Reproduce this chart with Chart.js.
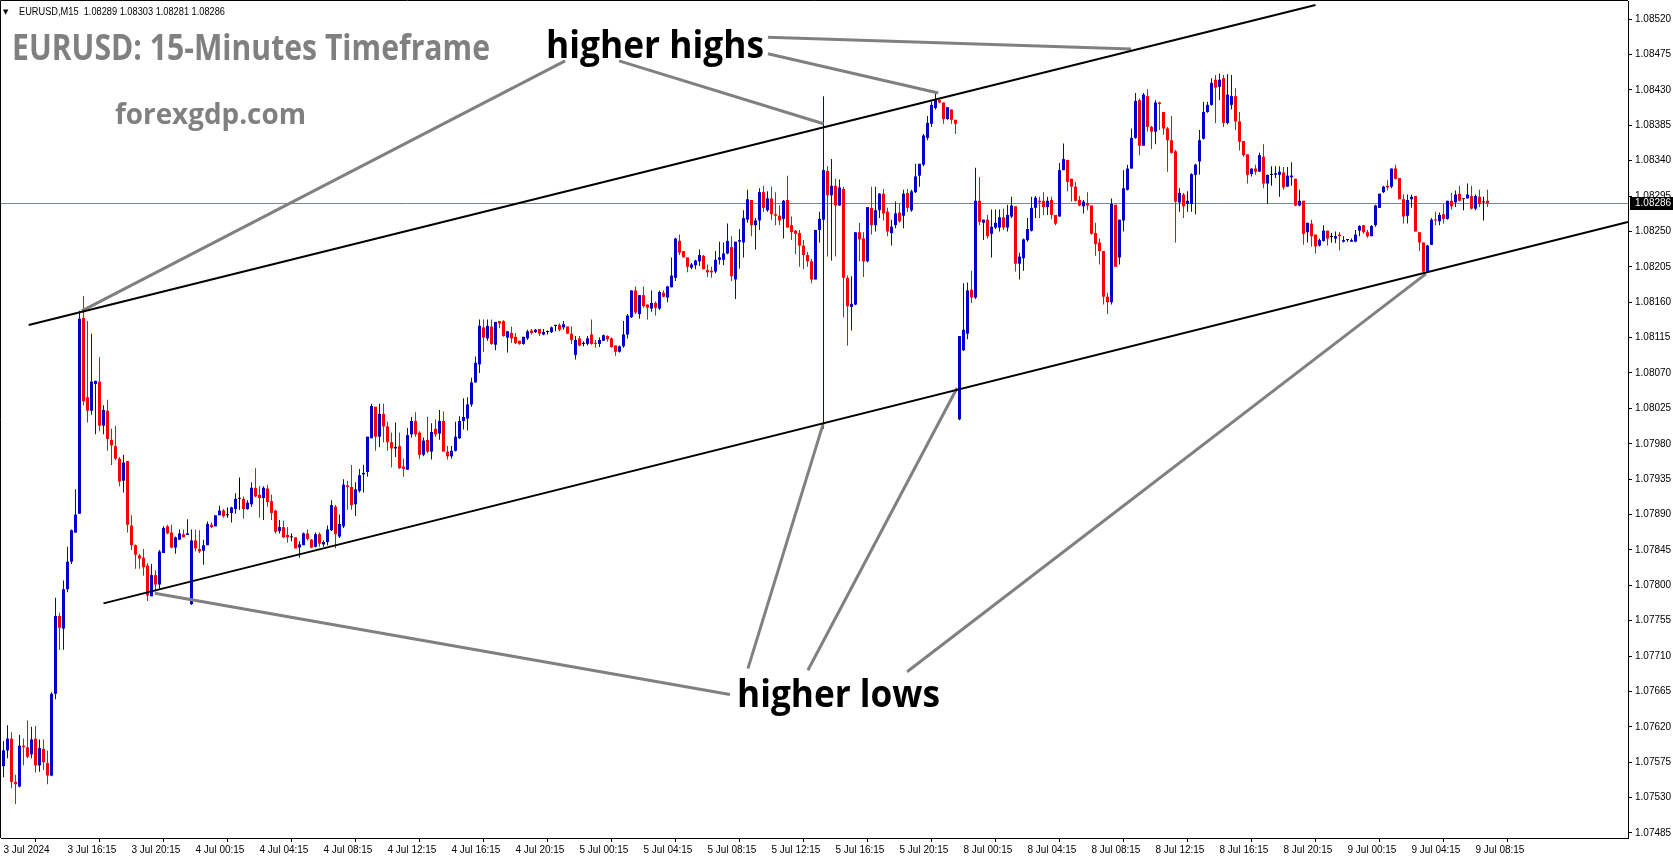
<!DOCTYPE html>
<html>
<head>
<meta charset="utf-8">
<title>EURUSD M15</title>
<script src="https://cdn.jsdelivr.net/npm/chart.js@4.4.1/dist/chart.umd.min.js"></script>
<style>
  html, body { margin: 0; padding: 0; background: #fff; overflow: hidden; }
  #myChart { display: block; }
</style>
</head>
<body>
<canvas id="myChart" width="1673" height="861"></canvas>
<script>
// Prices are stored in points: 7590 means 1.07590
const OPEN_PTS = [
  7570, 7590, 7605, 7550, 7544, 7596, 7594, 7585, 7605, 7571, 7592, 7574, 7558, 7662, 7761, 7745,
  7795, 7830, 7867, 7891, 8140, 8039, 8022, 8056, 8059, 8003, 8022, 7985, 7977, 7961, 7933, 7958,
  7876, 7851, 7838, 7835, 7825, 7786, 7813, 7801, 7841, 7875, 7867, 7848, 7858, 7865, 7864, 7776,
  7857, 7846, 7844, 7851, 7877, 7875, 7889, 7895, 7889, 7892, 7897, 7910, 7910, 7897, 7903, 7924,
  7915, 7911, 7923, 7907, 7895, 7869, 7874, 7864, 7861, 7861, 7848, 7851, 7866, 7858, 7849, 7865,
  7852, 7855, 7870, 7900, 7862, 7875, 7927, 7925, 7903, 7920, 7941, 7944, 7987, 8027, 7989, 8018,
  8002, 7982, 7974, 7977, 7951, 7947, 7992, 8009, 7994, 7966, 7985, 7970, 7999, 7993, 8009, 7970,
  7964, 7971, 7987, 8009, 8012, 8030, 8058, 8081, 8128, 8114, 8129, 8106, 8136, 8136, 8115, 8121,
  8116, 8111, 8107, 8114, 8124, 8122, 8126, 8119, 8122, 8122, 8130, 8131, 8128, 8129, 8120, 8093,
  8114, 8107, 8107, 8119, 8108, 8107, 8111, 8117, 8114, 8105, 8097, 8104, 8119, 8141, 8175, 8145,
  8169, 8157, 8152, 8159, 8152, 8172, 8166, 8179, 8191, 8238, 8225, 8217, 8204, 8207, 8212, 8219,
  8201, 8200, 8199, 8214, 8214, 8222, 8230, 8189, 8237, 8236, 8265, 8290, 8258, 8264, 8300, 8277,
  8292, 8272, 8270, 8266, 8290, 8258, 8251, 8248, 8232, 8220, 8212, 8189, 8252, 8265, 8327, 8296,
  8308, 8283, 8304, 8191, 8154, 8157, 8249, 8241, 8212, 8280, 8258, 8277, 8298, 8275, 8248, 8258,
  8274, 8270, 8299, 8277, 8300, 8321, 8335, 8369, 8387, 8407, 8417, 8414, 8393, 8405, 8392, 8011,
  8099, 8120, 8176, 8166, 8289, 8261, 8265, 8247, 8255, 8255, 8268, 8255, 8269, 8282, 8209, 8216,
  8239, 8251, 8280, 8289, 8289, 8281, 8290, 8271, 8269, 8328, 8341, 8317, 8307, 8290, 8282, 8286,
  8283, 8248, 8236, 8225, 8167, 8160, 8284, 8217, 8264, 8303, 8330, 8369, 8417, 8359, 8422, 8383,
  8377, 8414, 8402, 8381, 8366, 8352, 8287, 8297, 8285, 8285, 8322, 8339, 8368, 8402, 8411, 8443,
  8434, 8445, 8388, 8411, 8422, 8390, 8365, 8348, 8323, 8330, 8326, 8345, 8311, 8322, 8322, 8322,
  8325, 8307, 8319, 8317, 8283, 8289, 8249, 8260, 8246, 8232, 8238, 8251, 8243, 8241, 8246, 8237,
  8239, 8237, 8237, 8251, 8258, 8249, 8244, 8258, 8280, 8300, 8308, 8307, 8330, 8318, 8291, 8270,
  8291, 8295, 8249, 8236, 8199, 8233, 8265, 8263, 8272, 8266, 8289, 8287, 8298, 8291, 8292, 8295,
  8279, 8294, 8287, 8289,
];
const HIGH_PTS = [
  7602, 7622, 7613, 7559, 7610, 7605, 7628, 7620, 7621, 7604, 7604, 7590, 7664, 7784, 7765, 7806,
  7849, 7871, 7922, 8149, 8168, 8136, 8120, 8060, 8090, 8029, 8036, 7999, 8003, 7963, 7966, 7958,
  7889, 7852, 7840, 7846, 7828, 7827, 7819, 7845, 7875, 7877, 7877, 7862, 7871, 7871, 7884, 7871,
  7871, 7870, 7858, 7881, 7880, 7889, 7901, 7897, 7899, 7900, 7917, 7937, 7913, 7908, 7931, 7949,
  7926, 7926, 7928, 7915, 7896, 7883, 7882, 7874, 7866, 7861, 7856, 7867, 7871, 7859, 7867, 7867,
  7857, 7876, 7908, 7902, 7890, 7935, 7933, 7953, 7931, 7948, 7953, 7989, 8031, 8027, 8031, 8031,
  8008, 7994, 8007, 7994, 7961, 8000, 8014, 8020, 7996, 7988, 8014, 8006, 8011, 8023, 8021, 7977,
  7977, 8008, 8015, 8038, 8039, 8064, 8091, 8138, 8138, 8138, 8138, 8135, 8136, 8137, 8123, 8129,
  8121, 8111, 8116, 8125, 8126, 8126, 8126, 8126, 8124, 8129, 8131, 8133, 8136, 8129, 8129, 8117,
  8117, 8110, 8117, 8138, 8112, 8115, 8119, 8118, 8115, 8105, 8105, 8136, 8145, 8175, 8180, 8169,
  8180, 8157, 8175, 8161, 8175, 8175, 8181, 8217, 8242, 8246, 8225, 8217, 8210, 8214, 8227, 8220,
  8208, 8205, 8225, 8237, 8236, 8260, 8244, 8237, 8253, 8277, 8303, 8290, 8267, 8305, 8308, 8301,
  8307, 8300, 8283, 8290, 8321, 8269, 8252, 8252, 8239, 8224, 8215, 8252, 8275, 8422, 8333, 8342,
  8317, 8316, 8307, 8194, 8193, 8249, 8261, 8249, 8281, 8307, 8307, 8299, 8304, 8280, 8265, 8288,
  8286, 8303, 8304, 8303, 8336, 8336, 8374, 8397, 8415, 8425, 8418, 8414, 8408, 8405, 8392, 8117,
  8184, 8185, 8200, 8331, 8319, 8265, 8271, 8278, 8278, 8278, 8279, 8284, 8294, 8282, 8223, 8241,
  8267, 8294, 8295, 8294, 8300, 8294, 8294, 8271, 8337, 8362, 8341, 8317, 8313, 8295, 8290, 8300,
  8283, 8261, 8241, 8225, 8172, 8292, 8284, 8265, 8328, 8335, 8381, 8426, 8419, 8426, 8431, 8384,
  8417, 8415, 8402, 8383, 8397, 8354, 8305, 8299, 8301, 8324, 8336, 8379, 8415, 8415, 8445, 8449,
  8451, 8449, 8450, 8449, 8432, 8402, 8365, 8348, 8330, 8335, 8350, 8361, 8322, 8333, 8333, 8333,
  8332, 8332, 8338, 8317, 8303, 8289, 8261, 8265, 8246, 8241, 8258, 8251, 8248, 8250, 8249, 8244,
  8239, 8241, 8252, 8258, 8258, 8252, 8258, 8284, 8298, 8308, 8315, 8330, 8335, 8318, 8297, 8297,
  8297, 8295, 8249, 8236, 8233, 8267, 8275, 8274, 8285, 8289, 8299, 8302, 8308, 8291, 8311, 8308,
  8297, 8303, 8294, 8303,
];
const LOW_PTS = [
  7556, 7580, 7542, 7522, 7543, 7571, 7580, 7580, 7562, 7563, 7565, 7547, 7557, 7655, 7718, 7718,
  7791, 7827, 7867, 7891, 8029, 8007, 8017, 7992, 7996, 7992, 7971, 7953, 7959, 7926, 7918, 7867,
  7845, 7821, 7821, 7812, 7780, 7786, 7792, 7796, 7841, 7865, 7847, 7840, 7858, 7861, 7864, 7775,
  7843, 7841, 7826, 7851, 7873, 7875, 7889, 7886, 7886, 7880, 7891, 7896, 7885, 7896, 7900, 7912,
  7886, 7883, 7900, 7883, 7866, 7866, 7860, 7854, 7856, 7847, 7835, 7851, 7857, 7847, 7848, 7849,
  7849, 7851, 7869, 7847, 7860, 7873, 7896, 7896, 7888, 7918, 7918, 7938, 7987, 7971, 7976, 7982,
  7971, 7950, 7963, 7948, 7938, 7947, 7988, 7989, 7961, 7964, 7968, 7960, 7989, 7985, 7970, 7960,
  7961, 7970, 7986, 7998, 7997, 8027, 8058, 8070, 8097, 8111, 8106, 8099, 8127, 8116, 8096, 8108,
  8107, 8106, 8106, 8112, 8119, 8121, 8117, 8118, 8119, 8121, 8123, 8123, 8125, 8120, 8107, 8087,
  8104, 8104, 8105, 8106, 8102, 8103, 8111, 8110, 8102, 8092, 8096, 8102, 8114, 8140, 8145, 8139,
  8153, 8138, 8148, 8143, 8150, 8166, 8160, 8179, 8187, 8220, 8217, 8198, 8202, 8202, 8206, 8202,
  8192, 8191, 8197, 8208, 8207, 8221, 8187, 8164, 8203, 8217, 8261, 8244, 8227, 8252, 8275, 8275,
  8265, 8258, 8258, 8241, 8255, 8239, 8221, 8205, 8202, 8205, 8184, 8189, 8236, 7999, 8218, 8213,
  8218, 8283, 8141, 8105, 8124, 8156, 8212, 8192, 8211, 8246, 8250, 8267, 8264, 8244, 8232, 8254,
  8261, 8254, 8275, 8275, 8299, 8307, 8333, 8366, 8383, 8405, 8413, 8387, 8392, 8387, 8374, 8010,
  8098, 8113, 8159, 8164, 8258, 8239, 8241, 8217, 8253, 8250, 8252, 8250, 8267, 8199, 8189, 8200,
  8237, 8250, 8267, 8267, 8271, 8271, 8266, 8258, 8269, 8328, 8301, 8288, 8288, 8282, 8273, 8277,
  8246, 8219, 8208, 8157, 8145, 8157, 8205, 8208, 8250, 8302, 8330, 8368, 8347, 8359, 8377, 8355,
  8361, 8379, 8373, 8326, 8349, 8236, 8275, 8267, 8275, 8275, 8272, 8322, 8367, 8401, 8410, 8388,
  8417, 8383, 8386, 8405, 8379, 8353, 8345, 8311, 8320, 8322, 8326, 8305, 8285, 8308, 8318, 8294,
  8303, 8307, 8308, 8282, 8282, 8233, 8236, 8231, 8222, 8231, 8237, 8232, 8236, 8235, 8226, 8236,
  8237, 8237, 8237, 8244, 8247, 8242, 8244, 8256, 8280, 8299, 8302, 8305, 8316, 8291, 8260, 8260,
  8280, 8250, 8225, 8198, 8198, 8233, 8258, 8258, 8260, 8265, 8278, 8281, 8288, 8277, 8292, 8278,
  8277, 8281, 8264, 8281,
];
const CLOSE_PTS = [
  7590, 7605, 7550, 7547, 7596, 7594, 7582, 7604, 7571, 7593, 7575, 7558, 7662, 7761, 7746, 7795,
  7830, 7870, 7890, 8139, 8034, 8022, 8059, 8060, 8003, 8023, 7986, 7978, 7961, 7932, 7956, 7877,
  7851, 7839, 7834, 7823, 7787, 7813, 7801, 7843, 7873, 7866, 7848, 7861, 7866, 7861, 7866, 7857,
  7847, 7843, 7851, 7878, 7874, 7889, 7895, 7888, 7889, 7899, 7910, 7910, 7897, 7905, 7924, 7913,
  7911, 7924, 7906, 7892, 7868, 7874, 7861, 7861, 7861, 7847, 7852, 7866, 7859, 7848, 7865, 7853,
  7855, 7871, 7902, 7865, 7878, 7928, 7925, 7902, 7922, 7940, 7943, 7989, 8028, 7989, 8018, 8002,
  7982, 7974, 7976, 7949, 7948, 7991, 8009, 7992, 7966, 7984, 7970, 7995, 7992, 8009, 7970, 7964,
  7971, 7989, 8009, 8014, 8030, 8058, 8083, 8130, 8115, 8130, 8107, 8135, 8133, 8117, 8123, 8114,
  8108, 8107, 8116, 8123, 8121, 8125, 8120, 8122, 8122, 8128, 8130, 8125, 8132, 8120, 8112, 8112,
  8105, 8107, 8114, 8107, 8107, 8112, 8118, 8113, 8103, 8097, 8104, 8119, 8143, 8175, 8147, 8169,
  8155, 8153, 8159, 8153, 8173, 8167, 8180, 8194, 8241, 8223, 8217, 8205, 8208, 8213, 8220, 8202,
  8198, 8198, 8214, 8217, 8222, 8238, 8193, 8237, 8239, 8267, 8291, 8258, 8264, 8300, 8280, 8292,
  8272, 8270, 8264, 8289, 8255, 8249, 8247, 8232, 8220, 8212, 8189, 8252, 8266, 8328, 8296, 8308,
  8283, 8306, 8191, 8155, 8158, 8249, 8240, 8212, 8281, 8258, 8277, 8298, 8273, 8250, 8256, 8273,
  8263, 8298, 8280, 8301, 8320, 8336, 8372, 8388, 8411, 8418, 8414, 8393, 8408, 8392, 8387, 8117,
  8125, 8175, 8166, 8289, 8262, 8265, 8244, 8256, 8261, 8268, 8255, 8271, 8283, 8209, 8218, 8240,
  8253, 8280, 8293, 8287, 8281, 8289, 8271, 8260, 8328, 8342, 8313, 8307, 8289, 8283, 8288, 8283,
  8247, 8234, 8225, 8167, 8160, 8285, 8205, 8265, 8305, 8330, 8369, 8416, 8359, 8424, 8383, 8377,
  8414, 8412, 8381, 8366, 8350, 8288, 8299, 8282, 8289, 8323, 8335, 8366, 8402, 8411, 8439, 8433,
  8443, 8388, 8424, 8422, 8390, 8364, 8347, 8322, 8330, 8326, 8347, 8311, 8322, 8322, 8324, 8326,
  8306, 8321, 8321, 8283, 8289, 8247, 8261, 8244, 8231, 8239, 8251, 8241, 8243, 8244, 8244, 8239,
  8239, 8239, 8246, 8257, 8249, 8244, 8257, 8283, 8298, 8307, 8306, 8330, 8317, 8291, 8269, 8290,
  8294, 8250, 8236, 8199, 8232, 8265, 8264, 8271, 8266, 8289, 8282, 8297, 8289, 8291, 8297, 8279,
  8295, 8285, 8287, 8286,
];

// One label every 16 bars (4 hours of M15)
const TIME_LABELS = [
  '3 Jul 2024', '3 Jul 16:15', '3 Jul 20:15', '4 Jul 00:15', '4 Jul 04:15', '4 Jul 08:15',
  '4 Jul 12:15', '4 Jul 16:15', '4 Jul 20:15', '5 Jul 00:15', '5 Jul 04:15', '5 Jul 08:15',
  '5 Jul 12:15', '5 Jul 16:15', '5 Jul 20:15', '8 Jul 00:15', '8 Jul 04:15', '8 Jul 08:15',
  '8 Jul 12:15', '8 Jul 16:15', '8 Jul 20:15', '9 Jul 00:15', '9 Jul 04:15', '9 Jul 08:15',
];
const BARS_PER_LABEL = 16;

const PRICE_TICKS = [
  1.07485, 1.07530, 1.07575, 1.07620, 1.07665, 1.07710, 1.07755, 1.07800,
  1.07845, 1.07890, 1.07935, 1.07980, 1.08025, 1.08070, 1.08115, 1.08160,
  1.08205, 1.08250, 1.08295, 1.08340, 1.08385, 1.08430, 1.08475, 1.08520,
];

// [bar index, price, bar index, price]
const TREND_LINES = [
  [6.3, 1.08131, 328, 1.08538],
  [25, 1.07777, 406.1, 1.08262],
];
const HIGH_POINTERS = [
  [140.4, 1.08467, 19.6, 1.08149],
  [153.9, 1.08467, 205, 1.08387],
  [191.1, 1.08497, 281.9, 1.08482],
  [191.1, 1.08476, 233.7, 1.08426],
];
const LOW_POINTERS = [
  [37.8, 1.07790, 181.6, 1.07661],
  [186.1, 1.07694, 204.9, 1.08005],
  [201.1, 1.07692, 238.4, 1.08051],
  [225.9, 1.07690, 355.6, 1.08196],
];

const SYMBOL = 'EURUSD,M15';
const TITLE = 'EURUSD: 15-Minutes Timeframe';
const SITE = 'forexgdp.com';
const HIGHS_TEXT = 'higher highs';
const LOWS_TEXT = 'higher lows';

const COLOR_BULL = '#0000CD';
const COLOR_BEAR = '#FF0000';
const COLOR_DOJI = '#000000';
const COLOR_PRICE_LINE = '#778899';
const COLOR_POINTER = '#808080';
const COLOR_CAPTION = '#808080';

const Y_MIN = 1.074786;
const Y_MAX = 1.085431;
const X_MIN = -0.625;
const X_MAX = 406.125;
const AXIS_FONT = '"Liberation Sans", Arial, sans-serif';
const TEXT_FONT = '"Open Sans", "DejaVu Sans", sans-serif';

const ctx = document.querySelector('#myChart');

/**
 * Converts a value in points to a price.
 * @param {number} points The price in points.
 * @return {number} The price.
 */
function toPrice(points) {
  return 1 + points / 100000;
}

const barCount = Math.min(OPEN_PTS.length, HIGH_PTS.length, LOW_PTS.length, CLOSE_PTS.length);
const candles = [];
for (let i = 0; i < barCount; i++) {
  candles.push({
    o: toPrice(OPEN_PTS[i]),
    h: toPrice(HIGH_PTS[i]),
    l: toPrice(LOW_PTS[i]),
    c: toPrice(CLOSE_PTS[i]),
  });
}

/**
 * Picks the colour of a candle.
 * @param {Object} context The scriptable context.
 * @return {string} The colour.
 */
function getCandleColor(context) {
  const candle = candles[context.dataIndex];
  if (!candle) return COLOR_DOJI;
  if (candle.c > candle.o) return COLOR_BULL;
  if (candle.c < candle.o) return COLOR_BEAR;
  return COLOR_DOJI;
}

/**
 * Draws a text scaled to a given width.
 */
function drawFittedText(c, text, x, baseline, size, width, color, weight, family) {
  c.save();
  c.font = `${weight} ${size}px ${family}`;
  const measured = c.measureText(text).width;
  c.translate(x, baseline);
  c.scale(width / measured, 1);
  c.fillStyle = color;
  c.textAlign = 'left';
  c.textBaseline = 'alphabetic';
  c.fillText(text, 0, 0);
  c.restore();
}

/**
 * Draws a list of segments given in bar index / price coordinates.
 */
function drawSegments(chart, segments, color, width) {
  const c = chart.ctx;
  const xs = chart.scales.x;
  const ys = chart.scales.y;
  c.save();
  c.strokeStyle = color;
  c.lineWidth = width;
  c.lineCap = 'butt';
  segments.forEach((s) => {
    c.beginPath();
    c.moveTo(xs.getPixelForValue(s[0]), ys.getPixelForValue(s[1]));
    c.lineTo(xs.getPixelForValue(s[2]), ys.getPixelForValue(s[3]));
    c.stroke();
  });
  c.restore();
}

const overlayPlugin = {
  id: 'overlay',
  beforeDatasetsDraw(chart) {
    const c = chart.ctx;
    const area = chart.chartArea;
    const y = Math.round(chart.scales.y.getPixelForValue(candles[barCount - 1].c)) + 0.5;
    c.save();
    c.strokeStyle = COLOR_PRICE_LINE;
    c.lineWidth = 1;
    c.beginPath();
    c.moveTo(area.left, y);
    c.lineTo(area.right, y);
    c.stroke();
    c.restore();
  },
  afterDatasetsDraw(chart) {
    const c = chart.ctx;
    const area = chart.chartArea;
    c.save();
    c.beginPath();
    c.rect(area.left, area.top, area.right - area.left, area.bottom - area.top);
    c.clip();
    drawSegments(chart, HIGH_POINTERS, COLOR_POINTER, 3);
    drawSegments(chart, LOW_POINTERS, COLOR_POINTER, 3);
    drawSegments(chart, TREND_LINES, '#000000', 2);
    c.restore();
  },
  afterDraw(chart) {
    const c = chart.ctx;
    const area = chart.chartArea;
    const last = candles[barCount - 1];

    // frame
    c.save();
    c.strokeStyle = '#000';
    c.lineWidth = 1;
    c.beginPath();
    c.moveTo(0.5, area.bottom);
    c.lineTo(0.5, 0.5);
    c.lineTo(area.right, 0.5);
    c.stroke();
    c.restore();

    // header
    c.save();
    c.fillStyle = '#000';
    c.font = `7px ${TEXT_FONT}`;
    c.textBaseline = 'alphabetic';
    c.fillText('\u25BC', 3, 14);
    c.restore();
    const header = `${SYMBOL}  ${last.o.toFixed(5)} ${last.h.toFixed(5)} ${last.l.toFixed(5)} ${last.c.toFixed(5)}`;
    drawFittedText(c, header, 19, 15, 10, 206, '#000', 'normal', AXIS_FONT);

    drawFittedText(c, TITLE, 12, 60, 35, 478, COLOR_CAPTION, 'bold', TEXT_FONT);
    drawFittedText(c, SITE, 115, 124, 28, 191, COLOR_CAPTION, 'bold', TEXT_FONT);
    drawFittedText(c, HIGHS_TEXT, 546, 58, 38, 218, '#000', 'bold', TEXT_FONT);
    drawFittedText(c, LOWS_TEXT, 737, 707, 38, 203, '#000', 'bold', TEXT_FONT);

    // last price box on the axis
    const y = Math.round(chart.scales.y.getPixelForValue(last.c));
    c.save();
    c.fillStyle = '#000';
    c.fillRect(area.right + 2, y - 6, 43, 13);
    c.fillStyle = '#fff';
    c.font = `10px ${AXIS_FONT}`;
    c.textBaseline = 'middle';
    c.fillText(last.c.toFixed(5), area.right + 7, y + 0.5);
    c.restore();
  },
};

/**
 * Configures the chart.
 * @return {Object} The chart configuration.
 */
function getChartConfiguration() {
  const common = {
    backgroundColor: getCandleColor,
    borderWidth: 0,
    grouped: false,
    minBarLength: 1,
    inflateAmount: 0,
  };
  return {
    type: 'bar',
    data: {
      datasets: [
        Object.assign({
          label: 'wicks',
          data: candles.map((k, i) => ({x: i, y: [k.l, k.h]})),
          barThickness: 1,
          order: 2,
        }, common),
        Object.assign({
          label: 'bodies',
          data: candles.map((k, i) => ({x: i, y: [k.o, k.c]})),
          barThickness: 3,
          order: 1,
        }, common),
      ],
    },
    options: {
      responsive: false,
      animation: false,
      devicePixelRatio: 1,
      layout: {padding: {left: 1, top: 1, right: 0, bottom: 0}},
      plugins: {
        legend: {display: false},
        tooltip: {enabled: false},
      },
      scales: {
        x: {
          type: 'linear',
          min: X_MIN,
          max: X_MAX,
          offset: false,
          grid: {drawOnChartArea: false, drawTicks: true, tickLength: 4, color: '#000'},
          border: {display: true, color: '#000'},
          ticks: {
            autoSkip: false,
            maxRotation: 0,
            align: 'start',
            padding: 2,
            color: '#000',
            font: {size: 10, family: AXIS_FONT},
            callback: (value, index) => TIME_LABELS[index],
          },
          afterBuildTicks: (scale) => {
            scale.ticks = TIME_LABELS.map((_, i) => ({value: i * BARS_PER_LABEL}));
          },
          afterFit: (scale) => {
            scale.height = 23;
            scale.paddingLeft = 0;
            scale.paddingRight = 0;
          },
        },
        y: {
          type: 'linear',
          position: 'right',
          min: Y_MIN,
          max: Y_MAX,
          grid: {drawOnChartArea: false, drawTicks: true, tickLength: 4, color: '#000'},
          border: {display: true, color: '#000'},
          ticks: {
            autoSkip: false,
            padding: 3,
            color: '#000',
            font: {size: 10, family: AXIS_FONT},
            callback: (value) => value.toFixed(5),
          },
          afterBuildTicks: (scale) => {
            scale.ticks = PRICE_TICKS.map((v) => ({value: v}));
          },
          afterFit: (scale) => {
            scale.width = 45;
            scale.paddingTop = 0;
            scale.paddingBottom = 0;
          },
        },
      },
    },
    plugins: [overlayPlugin],
  };
}

new Chart(ctx, getChartConfiguration());
</script>
</body>
</html>
